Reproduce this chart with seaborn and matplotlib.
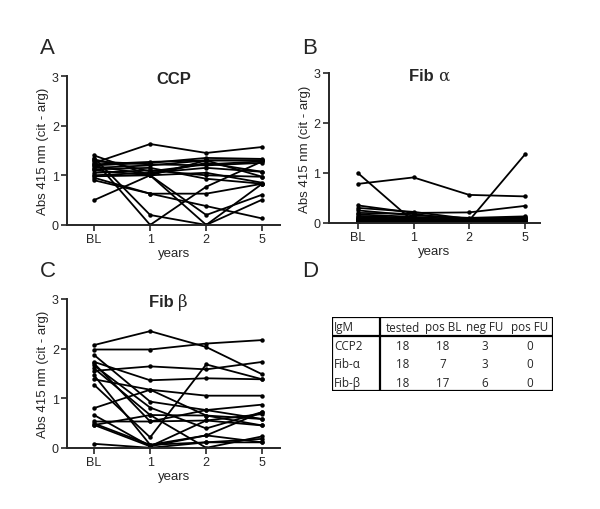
import numpy as np
import pandas as pd
import seaborn as sns
import matplotlib.pyplot as plt

# time points on the x axis
timepoints = ["BL", "1", "2", "5"]

# one row per patient: values at BL, 1, 2, 5 years
ccp = [
    [1.25, 1.63, 1.45, 1.57],
    [0.50, 1.00, 1.30, 1.30],
    [1.40, 1.00, 0.20, 0.61],
    [1.35, 0.20, 0.00, 0.51],
    [1.30, 0.00, 0.77, 1.28],
    [0.95, 0.63, 0.63, 0.83],
    [0.90, 0.63, 0.38, 0.13],
    [1.10, 1.00, 0.00, 0.83],
    [1.15, 1.20, 1.30, 1.30],
    [1.20, 1.25, 1.35, 1.33],
    [1.28, 1.22, 1.20, 1.25],
    [1.00, 1.05, 1.15, 1.07],
    [1.05, 1.10, 1.00, 0.97],
    [1.12, 1.15, 0.93, 0.83],
    [1.18, 1.02, 1.25, 1.07],
    [1.22, 1.27, 1.30, 0.97],
    [0.98, 1.00, 1.05, 0.85],
    [1.32, 1.08, 1.22, 1.28],
]
fib_a = [
    [1.00, 0.03, 0.05, 1.37],
    [0.78, 0.91, 0.56, 0.53],
    [0.35, 0.20, 0.21, 0.34],
    [0.30, 0.22, 0.08, 0.10],
    [0.25, 0.15, 0.10, 0.13],
    [0.20, 0.18, 0.05, 0.12],
    [0.17, 0.12, 0.07, 0.08],
    [0.14, 0.10, 0.04, 0.05],
    [0.12, 0.08, 0.06, 0.10],
    [0.10, 0.06, 0.03, 0.04],
    [0.08, 0.05, 0.02, 0.06],
    [0.07, 0.04, 0.03, 0.02],
    [0.06, 0.03, 0.02, 0.03],
    [0.05, 0.02, 0.01, 0.05],
    [0.04, 0.02, 0.02, 0.01],
    [0.03, 0.01, 0.01, 0.02],
    [0.02, 0.01, 0.00, 0.01],
    [0.01, 0.00, 0.01, 0.00],
]
fib_b = [
    [2.07, 2.35, 2.03, 1.48],
    [1.98, 1.98, 2.10, 2.17],
    [1.55, 1.64, 1.58, 1.73],
    [1.73, 1.36, 1.40, 1.38],
    [1.38, 1.17, 1.05, 1.05],
    [1.87, 0.93, 0.76, 0.87],
    [1.66, 0.81, 0.39, 0.72],
    [1.27, 0.21, 1.68, 1.38],
    [1.46, 0.06, 0.25, 0.11],
    [1.60, 0.66, 0.65, 0.58],
    [0.80, 1.17, 0.65, 0.45],
    [0.66, 0.03, 0.55, 0.68],
    [0.53, 0.53, 0.55, 0.45],
    [0.49, 0.06, 0.11, 0.18],
    [0.46, 0.66, 0.00, 0.23],
    [0.08, 0.00, 0.11, 0.11],
    [0.46, 0.03, 0.25, 0.72],
    [1.70, 0.53, 0.76, 0.58],
]

# table D
tbl_cols = ["IgM", "tested", "pos BL", "neg FU", "pos FU"]
tbl_rows = ["CCP2", "Fib-\u03b1", "Fib-\u03b2"]
tested = [18, 18, 18]
pos_bl = [18, 7, 17]
neg_fu = [3, 3, 6]
pos_fu = [0, 0, 0]

sns.set_style("ticks")
plt.rcParams['font.family'] = ['Liberation Sans', 'DejaVu Sans']


def long_form(rows):
    recs = []
    for i, r in enumerate(rows):
        for j, v in enumerate(r):
            recs.append({"pid": i, "t": j, "val": v})
    return pd.DataFrame(recs)


def panel(ax, rows, name, greek, xl):
    df = long_form(rows)
    sns.lineplot(data=df, x="t", y="val", units="pid", estimator=None,
                 color="black", lw=1.3, marker="o", markersize=3.2,
                 markeredgewidth=0, ax=ax)
    ax.set_xlim(*xl)
    ax.set_ylim(0, 3)
    ax.set_yticks([0, 1, 2, 3])
    ax.set_xticks(range(len(timepoints)))
    ax.set_xticklabels(timepoints)
    ax.set_xlabel("years", fontsize=9.5, labelpad=1)
    ax.set_ylabel("Abs 415 nm (cit - arg)", fontsize=9.5, labelpad=2)
    ax.tick_params(labelsize=9, width=1.2, length=4, pad=2)
    for s in ["left", "bottom"]:
        ax.spines[s].set_linewidth(1.4)
    sns.despine(ax=ax)
    if greek:
        ax.text(0.52, 0.985, name + " ", transform=ax.transAxes, ha="right",
                va="center", fontsize=12, fontweight="bold")
        ax.text(0.52, 0.985, greek, transform=ax.transAxes, ha="left",
                va="center", fontsize=12, family=["DejaVu Serif"])
    else:
        ax.text(0.5, 0.985, name, transform=ax.transAxes, ha="center",
                va="center", fontsize=12, fontweight="bold")


fig = plt.figure(figsize=(6, 5.1), dpi=100)
axA = fig.add_axes([0.112, 0.557, 0.355, 0.292])
axB = fig.add_axes([0.548, 0.561, 0.352, 0.294])
axC = fig.add_axes([0.112, 0.120, 0.355, 0.292])

panel(axA, ccp, "CCP", None, (-0.48, 3.32))
panel(axB, fib_a, "Fib", "\u03b1", (-0.52, 3.27))
panel(axC, fib_b, "Fib", "\u03b2", (-0.48, 3.32))

for lab, x, y in [("A", 0.067, 0.905), ("B", 0.503, 0.905),
                  ("C", 0.067, 0.468), ("D", 0.503, 0.468)]:
    fig.text(x, y, lab, fontsize=16, ha="left", va="center")

# table D drawn by hand
axD = fig.add_axes([332 / 600, 1 - 392 / 510, 221 / 600, 74 / 510])
axD.set_xlim(332, 553)
axD.set_ylim(392, 318)
axD.axis("off")
axD.plot([332, 553, 553, 332, 332], [318, 318, 392, 392, 318], color="black", lw=1.6)
axD.plot([380, 380], [318, 392], color="black", lw=1.6)
axD.plot([332, 553], [337, 337], color="black", lw=1.6)
col_x = [403, 443, 485, 530]
row_y = [328, 346.5, 365, 383.5]
tf = dict(fontsize=8.4, family=["Open Sans", "DejaVu Sans"], va="center")
axD.text(334, row_y[0], tbl_cols[0], ha="left", **tf)
for cx, c in zip(col_x, tbl_cols[1:]):
    axD.text(cx, row_y[0], c, ha="center", **tf)
for i, name in enumerate(tbl_rows):
    axD.text(334, row_y[i + 1], name, ha="left", **tf)
    for cx, v in zip(col_x, [tested[i], pos_bl[i], neg_fu[i], pos_fu[i]]):
        axD.text(cx, row_y[i + 1], str(v), ha="center", **tf)

fig.savefig("out.png", dpi=100)
